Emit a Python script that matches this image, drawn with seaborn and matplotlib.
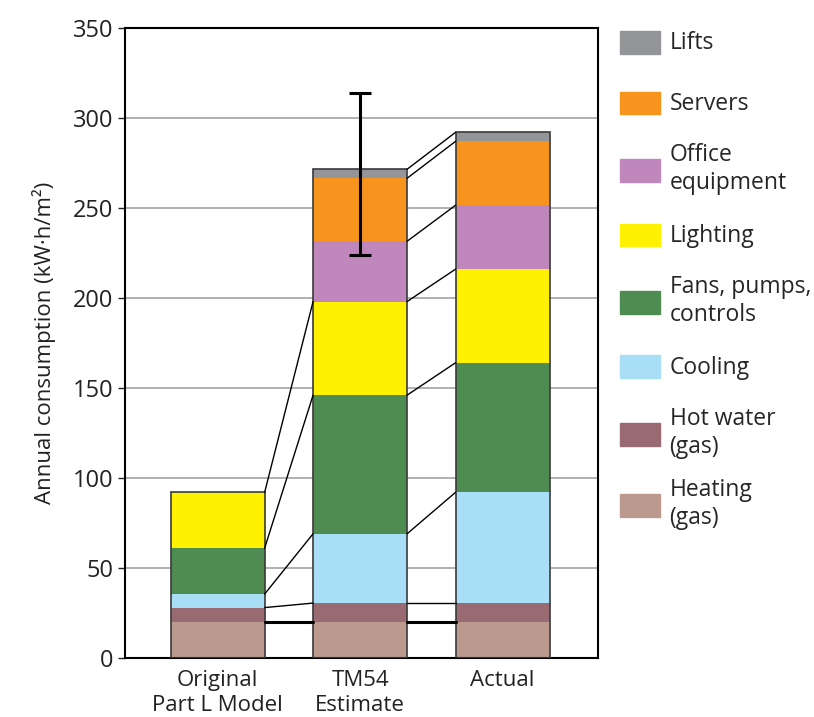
import matplotlib
matplotlib.use("Agg")
import matplotlib.pyplot as plt
import seaborn as sns
from matplotlib.patches import Patch, Rectangle
from matplotlib.legend_handler import HandlerPatch

# categories (x) and stacked components, bottom to top
categories = ["Original\nPart L Model", "TM54\nEstimate", "Actual"]
components = ["Heating\n(gas)", "Hot water\n(gas)", "Cooling", "Fans, pumps,\ncontrols",
              "Lighting", "Office\nequipment", "Servers", "Lifts"]
colors = ["#BC998F", "#9A6A73", "#A8DEF6", "#4F8C51",
          "#FFF100", "#BF87BB", "#F7941E", "#939598"]

heating = [20, 20, 20]
hot_water = [8, 10.5, 10.5]
cooling = [7.5, 38.5, 61.5]
fans = [25.5, 77, 72]
lighting = [31, 52, 52]
office = [0, 33.5, 35.5]
servers = [0, 35, 35.5]
lifts = [0, 5, 5]

tm54_range = [224, 314]

layers = [heating, hot_water, cooling, fans, lighting, office, servers, lifts]

# cumulative tops of every layer
cum = []
run = [0, 0, 0]
for layer in layers:
    run = [a + b for a, b in zip(run, layer)]
    cum.append(run)

sns.set_theme(style="ticks")
plt.rcParams['font.family'] = ['Open Sans', 'DejaVu Sans']

fig = plt.figure(figsize=(8.14, 7.17), dpi=100)
ax = fig.add_axes([0.1536, 0.0823, 0.581, 0.8787])

w = 0.66
for j in range(len(layers) - 1, -1, -1):
    sns.barplot(x=categories, y=cum[j], order=categories, color=colors[j],
                width=w, edgecolor="none", linewidth=0, saturation=1, ax=ax, zorder=2)

# bar outlines
sns.barplot(x=categories, y=cum[-1], order=categories, fill=False, color="#3a3a3a",
            width=w, linewidth=1.2, ax=ax, zorder=3)

# connecting lines between bars
for i in range(len(categories) - 1):
    for j in range(len(layers)):
        if layers[j][i] == 0 or layers[j][i + 1] == 0:
            continue
        lw = 2.2 if j == 0 else 1.0
        ax.plot([i + w / 2, i + 1 - w / 2], [cum[j][i], cum[j][i + 1]],
                color="black", lw=lw, zorder=3)

# TM54 range
mid = (tm54_range[0] + tm54_range[1]) / 2
half = (tm54_range[1] - tm54_range[0]) / 2
ax.errorbar([1], [mid], yerr=[[half], [half]], fmt="none", ecolor="black",
            elinewidth=2.2, capsize=8, capthick=2.2, zorder=4)

ax.set_xlim(-0.65, 2.67)
ax.set_ylim(0, 350)
ax.set_yticks(range(0, 351, 50))
ax.yaxis.grid(True, color="#b0b0b0", lw=1.4)
ax.set_axisbelow(True)
for s in ax.spines.values():
    s.set_visible(True)
    s.set_color("black")
    s.set_linewidth(1.5)
ax.tick_params(axis="y", length=5, width=1, labelsize=17, colors="#222222", direction="out")
ax.tick_params(axis="x", length=0, labelsize=16, colors="#222222", pad=9)
ax.set_ylabel("Annual consumption (kW·h/m²)", fontsize=16, color="#222222", labelpad=12)
ax.set_xlabel("")


def small_patch(legend, orig_handle, xdescent, ydescent, width, height, fontsize):
    h = fontsize * 1.0
    return Rectangle((-xdescent, -ydescent + (height - h) / 2), width, h)


handles = [Patch(facecolor=c, edgecolor=c) for c in colors][::-1]
labels = components[::-1]
fig.legend(handles, labels, loc="upper left", bbox_to_anchor=(0.762, 0.97),
           frameon=False, fontsize=16.5, handlelength=1.75, handleheight=2.4,
           labelspacing=0.85, handletextpad=0.4, borderaxespad=0, borderpad=0,
           handler_map={Patch: HandlerPatch(patch_func=small_patch)})

fig.savefig("out.png", dpi=100)
